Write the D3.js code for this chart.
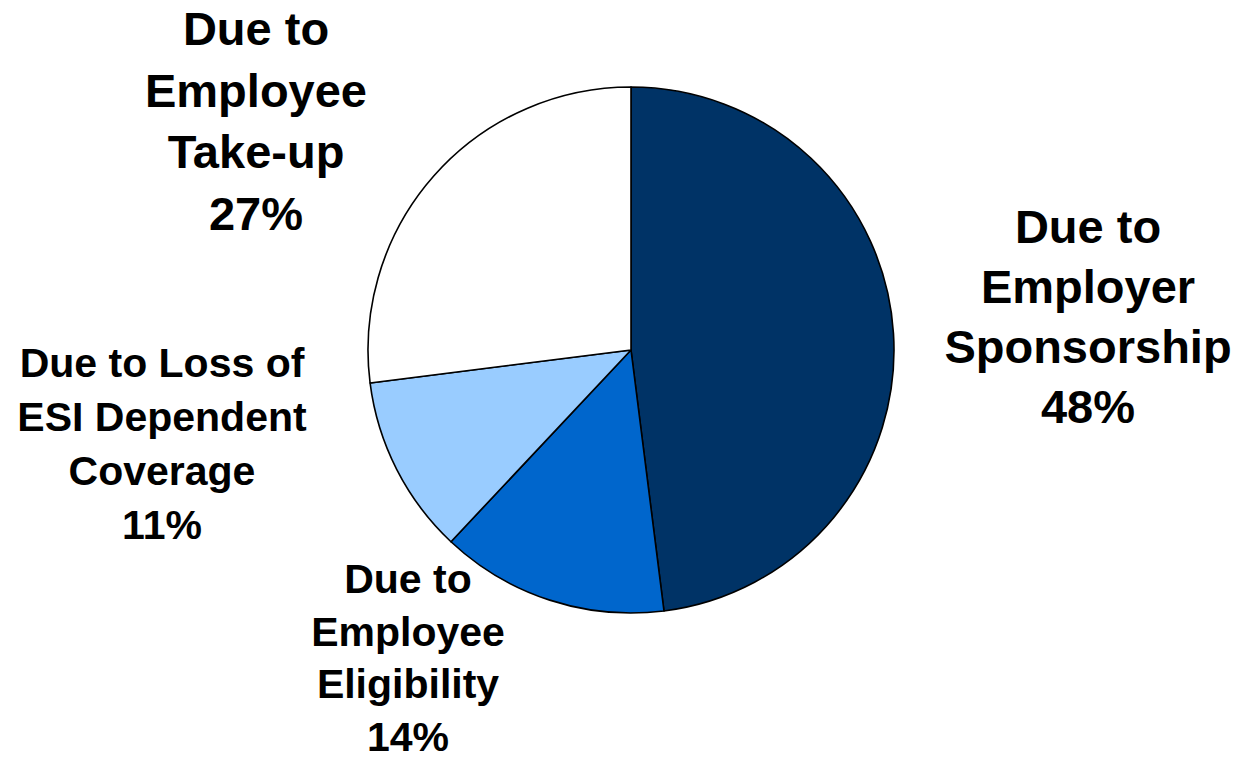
<!DOCTYPE html>
<html>
<head>
<meta charset="utf-8">
<script src="https://cdn.jsdelivr.net/npm/d3@7"></script>
<style>
  html, body { margin: 0; padding: 0; background: #ffffff; }
  svg { display: block; }
  text { font-family: Arial, "Liberation Sans", sans-serif; font-weight: bold; fill: #000; }
</style>
</head>
<body>
<svg id="chart" width="1238" height="761"></svg>
<script>
const categories = [
  "Due to Employer Sponsorship",
  "Due to Employee Eligibility",
  "Due to Loss of ESI Dependent Coverage",
  "Due to Employee Take-up"
];
const values = [48, 14, 11, 27];
const colors = ["#003366", "#0066CC", "#99CCFF", "#FFFFFF"];
const labelLines = [
  ["Due to", "Employer", "Sponsorship", "48%"],
  ["Due to", "Employee", "Eligibility", "14%"],
  ["Due to Loss of", "ESI Dependent", "Coverage", "11%"],
  ["Due to", "Employee", "Take-up", "27%"]
];

const W = 1238, H = 761;
const cx = 631, cy = 350, R = 263;

const svg = d3.select("#chart");
const g = svg.append("g").attr("transform", `translate(${cx},${cy})`);

const data = categories.map((c, i) => ({ name: c, value: values[i], color: colors[i], lines: labelLines[i] }));

const pie = d3.pie().sort(null).value(d => d.value);
const arc = d3.arc().innerRadius(0).outerRadius(R);
const arcs = pie(data);

g.selectAll("path.slice")
  .data(arcs)
  .enter().append("path")
  .attr("class", "slice")
  .attr("d", arc)
  .attr("fill", d => d.data.color)
  .attr("stroke", "#000")
  .attr("stroke-width", 1.6)
  .attr("stroke-linejoin", "round");

// label placement (layout settings, kept separate from data)
const labelLayout = [
  { x: 1088, y: 243, size: 47, lh: 60 },
  { x: 408,  y: 593, size: 41, lh: 52.7 },
  { x: 162,  y: 377, size: 41, lh: 54 },
  { x: 256,  y: 45,  size: 47, lh: 61.5 }
];

const labels = svg.append("g");
arcs.forEach((a, i) => {
  const L = labelLayout[i];
  const t = labels.append("text")
    .attr("text-anchor", "middle")
    .style("font-size", L.size + "px");
  a.data.lines.forEach((ln, j) => {
    t.append("tspan")
      .attr("x", L.x)
      .attr("y", L.y + j * L.lh)
      .text(ln);
  });
});
</script>
</body>
</html>
